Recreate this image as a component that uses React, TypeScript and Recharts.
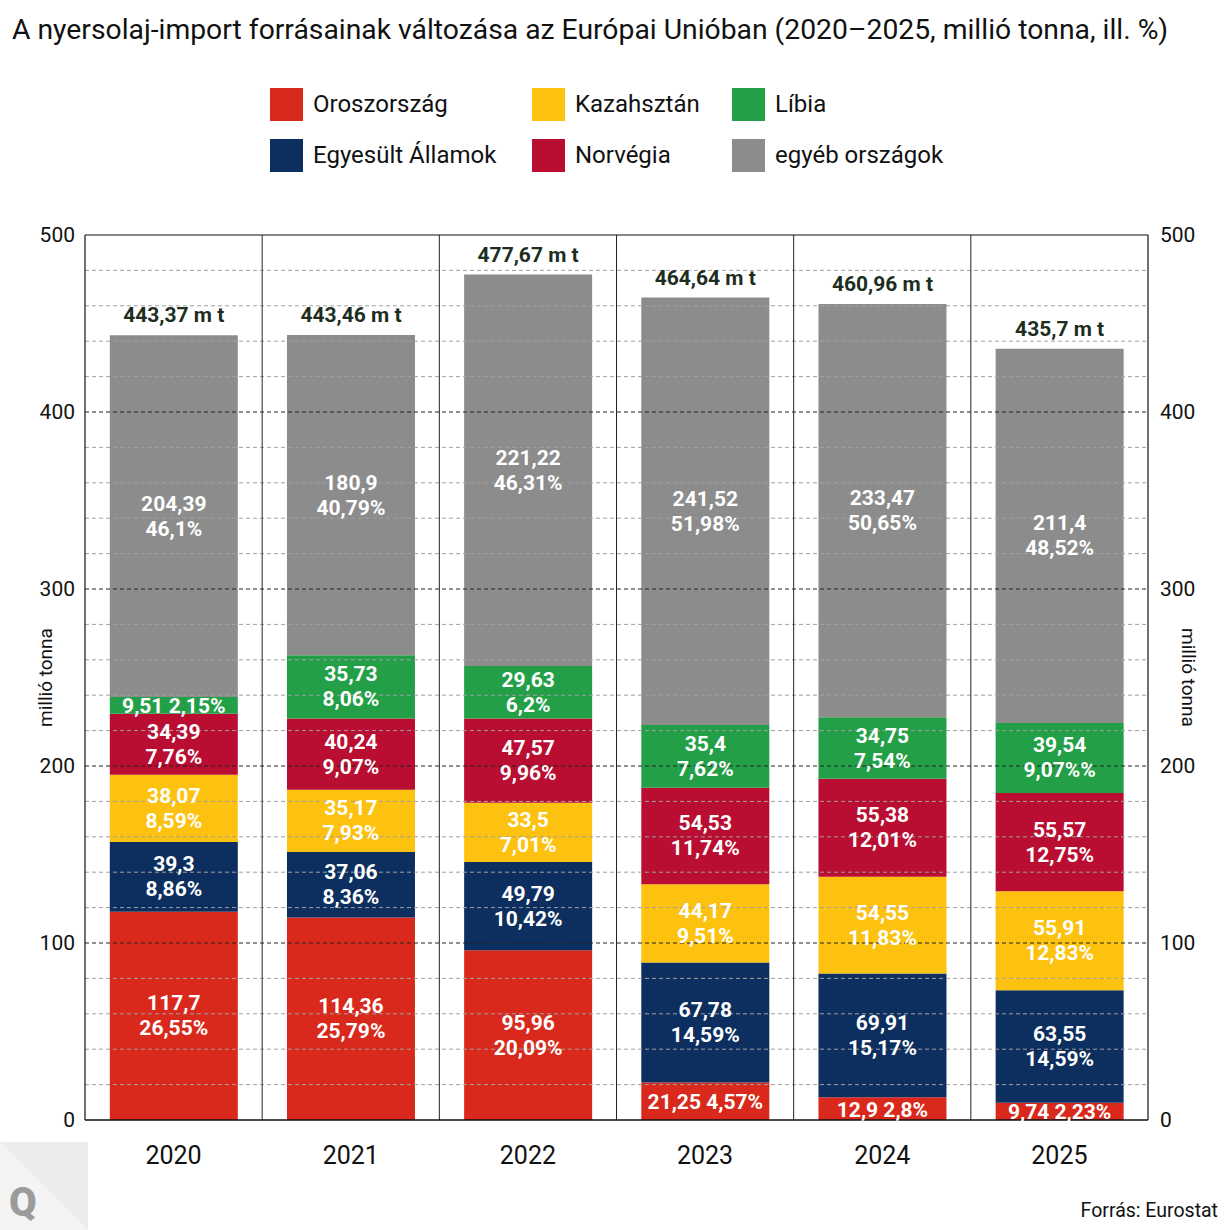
import React from 'react';
import { BarChart, Bar, XAxis, YAxis, ReferenceLine, LabelList, Legend, Label } from 'recharts';

// ---- data ----
const years = ['2020', '2021', '2022', '2023', '2024', '2025'];
const oroszorszag = [117.7, 114.36, 95.96, 21.25, 12.9, 9.74];
const oroszorszagPct = ['26,55%', '25,79%', '20,09%', '4,57%', '2,8%', '2,23%'];
const egyesultAllamok = [39.3, 37.06, 49.79, 67.78, 69.91, 63.55];
const egyesultAllamokPct = ['8,86%', '8,36%', '10,42%', '14,59%', '15,17%', '14,59%'];
const kazahsztan = [38.07, 35.17, 33.5, 44.17, 54.55, 55.91];
const kazahsztanPct = ['8,59%', '7,93%', '7,01%', '9,51%', '11,83%', '12,83%'];
const norvegia = [34.39, 40.24, 47.57, 54.53, 55.38, 55.57];
const norvegiaPct = ['7,76%', '9,07%', '9,96%', '11,74%', '12,01%', '12,75%'];
const libia = [9.51, 35.73, 29.63, 35.4, 34.75, 39.54];
const libiaPct = ['2,15%', '8,06%', '6,2%', '7,62%', '7,54%', '9,07%%'];
const egyeb = [204.39, 180.9, 221.22, 241.52, 233.47, 211.4];
const egyebPct = ['46,1%', '40,79%', '46,31%', '51,98%', '50,65%', '48,52%'];
const osszesen = ['443,37', '443,46', '477,67', '464,64', '460,96', '435,7'];

const seriesNames = ['Oroszország', 'Egyesült Államok', 'Kazahsztán', 'Norvégia', 'Líbia', 'egyéb országok'];
const seriesKeys = ['oroszorszag', 'egyesultAllamok', 'kazahsztan', 'norvegia', 'libia', 'egyeb'];
const seriesValues = [oroszorszag, egyesultAllamok, kazahsztan, norvegia, libia, egyeb];
const seriesPcts = [oroszorszagPct, egyesultAllamokPct, kazahsztanPct, norvegiaPct, libiaPct, egyebPct];

const yTicks = [0, 100, 200, 300, 400, 500];
const gridMinor = [20, 40, 60, 80, 120, 140, 160, 180, 220, 240, 260, 280, 320, 340, 360, 380, 420, 440, 460, 480];
const gridMajor = [100, 200, 300, 400];

// ---- styles ----
const colors = ['#d8291c', '#0c2f5f', '#fdc20f', '#b90d31', '#23a047', '#8c8c8c'];
const FONT = 'Roboto, "Noto Sans", sans-serif';

const data = years.map((year, i) => {
  const row: Record<string, any> = { year };
  seriesKeys.forEach((k, s) => {
    row[k] = seriesValues[s][i];
  });
  return row;
});

const fmt = (v: number) => String(v).replace('.', ',');

const makeSegLabel = (s: number) => (props: any) => {
  const vb = props.viewBox || props;
  const x = Number(props.x ?? vb.x);
  const y = Number(props.y ?? vb.y);
  const w = Number(props.width ?? vb.width);
  const h = Number(props.height ?? vb.height);
  const i = props.index;
  if (i == null || isNaN(x)) return null;
  const top = Math.min(y, y + h);
  const hh = Math.abs(h);
  const cx = x + w / 2;
  const cy = top + hh / 2;
  const val = fmt(seriesValues[s][i]);
  const pct = seriesPcts[s][i];
  const common = {
    x: cx,
    textAnchor: 'middle' as const,
    dominantBaseline: 'central' as const,
    fill: '#ffffff',
    fontFamily: FONT,
    fontWeight: 700,
    fontSize: 21,
  };
  if (hh < 45) {
    return (
      <text {...common} y={cy + 1}>
        {val + ' ' + pct}
      </text>
    );
  }
  return (
    <g>
      <text {...common} y={cy - 12.5}>
        {val}
      </text>
      <text {...common} y={cy + 12.5}>
        {pct}
      </text>
    </g>
  );
};

const totalLabel = (props: any) => {
  const vb = props.viewBox || props;
  const x = Number(props.x ?? vb.x);
  const y = Number(props.y ?? vb.y);
  const w = Number(props.width ?? vb.width);
  const h = Number(props.height ?? vb.height);
  const i = props.index;
  if (i == null || isNaN(x)) return null;
  const top = Math.min(y, y + h);
  return (
    <text
      x={x + w / 2}
      y={top - 13}
      textAnchor="middle"
      fill="#1d2e21"
      fontFamily={FONT}
      fontWeight={700}
      fontSize={21}
    >
      {osszesen[i] + ' m t'}
    </text>
  );
};

const LegendContent = () => {
  const colX = [0, 262, 462];
  const textOff = 43;
  return (
    <div style={{ position: 'relative', width: 700, height: 90, fontFamily: FONT }}>
      {seriesNames.map((name, s) => {
        const col = Math.floor(s / 2);
        const row = s % 2;
        return (
          <div key={name} style={{ position: 'absolute', left: colX[col], top: row * 51, height: 33, display: 'flex', alignItems: 'center' }}>
            <div style={{ width: 33, height: 33, background: colors[s] }} />
            <span style={{ marginLeft: textOff - 33, fontSize: 24, color: '#111', whiteSpace: 'nowrap', lineHeight: '33px' }}>{name}</span>
          </div>
        );
      })}
    </div>
  );
};

const axisTitle = (side: 'left' | 'right') => (props: any) => {
  const vb = props.viewBox;
  if (!vb) return null;
  const x = side === 'left' ? 45 : 1188;
  const y = vb.y + vb.height / 2;
  return (
    <text
      x={x}
      y={y}
      transform={`rotate(${side === 'left' ? -90 : 90}, ${x}, ${y})`}
      textAnchor="middle"
      dominantBaseline="central"
      fill="#111"
      fontFamily={FONT}
      fontSize={19}
    >
      millió tonna
    </text>
  );
};

export default function App() {
  return (
    <div style={{ position: 'absolute', left: 0, top: 0, width: 1230, height: 1230, background: '#fff', fontFamily: FONT }}>
      <svg width={1230} height={1230} style={{ position: 'absolute', left: 0, top: 0 }}>
        <text x={12} y={39} fontFamily={FONT} fontSize={28.3} fill="#111">
          A nyersolaj-import forrásainak változása az Európai Unióban (2020–2025, millió tonna, ill. %)
        </text>
        <polygon points="0,1142 88,1142 88,1230 0,1230" fill="#f4f4f4" />
        <polygon points="0,1142 88,1142 88,1230" fill="#ececec" />
        <text x={9} y={1216} fontFamily={FONT} fontWeight={900} fontSize={40} fill="#9b9b9b">
          Q
        </text>
        <text x={1218} y={1217} textAnchor="end" fontFamily={FONT} fontSize={19.5} fill="#111">
          Forrás: Eurostat
        </text>
      </svg>
      <div style={{ position: 'absolute', left: 0, top: 0 }}>
        <BarChart
          width={1230}
          height={1230}
          data={data}
          margin={{ top: 235, left: 25, right: 22, bottom: 50 }}
          barCategoryGap="14%"
        >
          <XAxis
            xAxisId="cat"
            dataKey="year"
            axisLine={false}
            tickLine={false}
            tickSize={0}
            tickMargin={26}
            height={60}
            tick={{ fontSize: 25, fill: '#111', fontFamily: FONT }}
          />
          <XAxis xAxisId="lbl" dataKey="year" hide />
          <YAxis
            yAxisId="left"
            domain={[0, 500]}
            ticks={yTicks}
            width={60}
            axisLine={false}
            tickLine={false}
            tickSize={0}
            tickMargin={10}
            allowDataOverflow
            tick={{ fontSize: 21, fill: '#111', fontFamily: FONT }}
          >
            <Label content={axisTitle('left')} />
          </YAxis>
          <YAxis
            yAxisId="right"
            orientation="right"
            domain={[0, 500]}
            ticks={yTicks}
            width={60}
            axisLine={false}
            tickLine={false}
            tickSize={0}
            tickMargin={12}
            allowDataOverflow
            tick={{ fontSize: 21, fill: '#111', fontFamily: FONT, textAnchor: 'start' }}
          >
            <Label content={axisTitle('right')} />
          </YAxis>

          {seriesKeys.map((k, s) => (
            <Bar
              key={k}
              dataKey={k}
              name={seriesNames[s]}
              stackId="a"
              xAxisId="cat"
              yAxisId="left"
              fill={colors[s]}
              isAnimationActive={false}
            />
          ))}

          {gridMinor.map((v) => (
            <ReferenceLine key={'g' + v} y={v} xAxisId="cat" yAxisId="left" stroke="#a0a0a0" strokeWidth={1} strokeDasharray="4 3" />
          ))}
          {gridMajor.map((v) => (
            <ReferenceLine key={'G' + v} y={v} xAxisId="cat" yAxisId="left" stroke="#222" strokeWidth={1} strokeDasharray="4 3" />
          ))}
          {years.slice(1).map((yr) => (
            <ReferenceLine key={'s' + yr} x={yr} position="start" xAxisId="cat" yAxisId="left" stroke="#222" strokeWidth={1} />
          ))}
          <ReferenceLine x={years[0]} position="start" xAxisId="cat" yAxisId="left" stroke="#111" strokeWidth={1.2} />
          <ReferenceLine x={years[years.length - 1]} position="end" xAxisId="cat" yAxisId="left" stroke="#111" strokeWidth={1.2} />
          <ReferenceLine y={0} xAxisId="cat" yAxisId="left" stroke="#111" strokeWidth={1.5} />
          <ReferenceLine y={500} xAxisId="cat" yAxisId="left" stroke="#111" strokeWidth={1.2} />

          {seriesKeys.map((k, s) => (
            <Bar
              key={'lbl-' + k}
              dataKey={k}
              stackId="b"
              xAxisId="lbl"
              yAxisId="left"
              fill="transparent"
              legendType="none"
              isAnimationActive={false}
            >
              <LabelList dataKey={k} content={makeSegLabel(s)} />
              {s === seriesKeys.length - 1 ? <LabelList dataKey={k} content={totalLabel} /> : null}
            </Bar>
          ))}

          <Legend
            layout="horizontal"
            verticalAlign="middle"
            align="center"
            content={LegendContent}
            wrapperStyle={{ position: 'absolute', top: 88, left: 270, width: 700, height: 90 }}
          />
        </BarChart>
      </div>
    </div>
  );
}
